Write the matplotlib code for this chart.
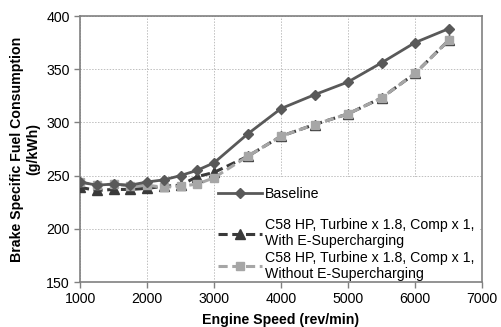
import matplotlib
matplotlib.use("Agg")
import matplotlib.pyplot as plt
from matplotlib.patches import Rectangle

plt.rcParams['font.family'] = ['Liberation Sans', 'DejaVu Sans']

speed = [1000, 1250, 1500, 1750, 2000, 2250, 2500, 2750, 3000, 3500, 4000, 4500, 5000, 5500, 6000, 6500]
baseline = [244, 241, 242, 241, 244, 246, 250, 255, 262, 289, 313, 326, 338, 356, 375, 388]
with_esc = [239, 236, 237, 237, 238, 240, 241, 249, 253, 268, 287, 298, 308, 323, 346, 377]
without_esc = [244, 241, 242, 240, 241, 239, 240, 242, 248, 268, 287, 298, 308, 323, 346, 377]

labels = ["Baseline",
          "C58 HP, Turbine x 1.8, Comp x 1,\nWith E-Supercharging",
          "C58 HP, Turbine x 1.8, Comp x 1,\nWithout E-Supercharging"]
xticks = [1000, 2000, 3000, 4000, 5000, 6000, 7000]
yticks = [150, 200, 250, 300, 350, 400]

FS = 10.2
fig = plt.figure(figsize=(5.01, 3.27), dpi=100)
ax = fig.add_axes([80/501, 1-282/327, (482-80)/501, (282-16)/327])

l1, = ax.plot(speed, baseline, color='#595959', lw=2.0, marker='D', ms=5, label=labels[0], zorder=4)
l2, = ax.plot(speed, with_esc, color='#3a3a3a', lw=2.2, ls=(0, (3, 1.5)), marker='^', ms=7, label=labels[1], zorder=3)
l3, = ax.plot(speed, without_esc, color='#a6a6a6', lw=2.2, ls=(0, (3, 1.5)), marker='s', ms=6, label=labels[2], zorder=3)

ax.set_xlim(1000, 7000)
ax.set_ylim(150, 400)
ax.set_xticks(xticks)
ax.set_yticks(yticks)
ax.tick_params(labelsize=FS, direction='out', length=4, color='#808080', width=1)
ax.grid(True, color='#bfbfbf', ls=(0, (1.5, 1.5)), lw=0.7)
ax.set_axisbelow(True)
for s in ax.spines.values():
    s.set_color('#808080')
    s.set_linewidth(1.2)

ax.set_xlabel("Engine Speed (rev/min)", fontsize=FS, fontweight='bold', labelpad=5)
ax.set_ylabel("Brake Specific Fuel Consumption\n(g/kWh)", fontsize=FS, fontweight='bold', labelpad=4)

# white legend area
ax.add_patch(Rectangle((0.336, 0.019), 0.66, 0.376, transform=ax.transAxes,
                       facecolor='white', edgecolor='none', zorder=1.5))

common = dict(fontsize=FS, frameon=False, handlelength=3.1, handletextpad=0.2,
              borderpad=0, borderaxespad=0, loc='center left')
leg1 = ax.legend(handles=[l1], labels=[labels[0]], bbox_to_anchor=(0.343, 0.332), **common)
leg1.set_zorder(5)
ax.add_artist(leg1)
leg2 = ax.legend(handles=[l2, l3], labels=labels[1:], bbox_to_anchor=(0.343, 0.122),
                 labelspacing=0.15, **common)
leg2.set_zorder(5)

fig.savefig("out.png", dpi=100)
